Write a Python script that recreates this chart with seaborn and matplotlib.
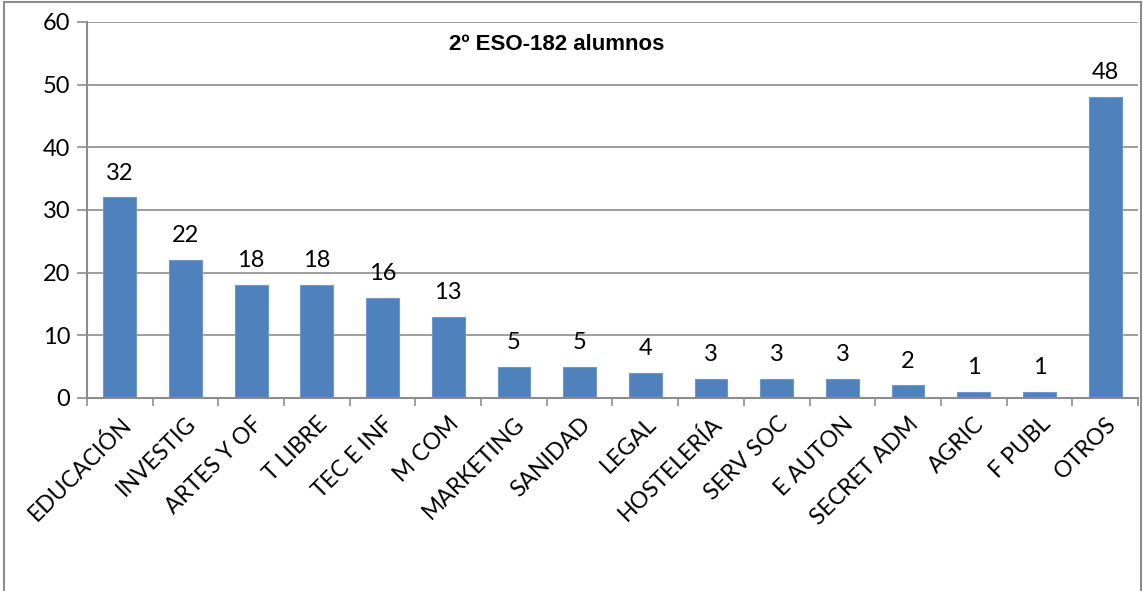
import matplotlib
matplotlib.use("Agg")
import matplotlib.pyplot as plt
import seaborn as sns
import pandas as pd
import numpy as np
from matplotlib.patches import Rectangle

categories = ["EDUCACIÓN", "INVESTIG", "ARTES Y OF", "T LIBRE", "TEC E INF", "M COM",
              "MARKETING", "SANIDAD", "LEGAL", "HOSTELERÍA", "SERV SOC", "E AUTON",
              "SECRET ADM", "AGRIC", "F PUBL", "OTROS"]
values = [32, 22, 18, 18, 16, 13, 5, 5, 4, 3, 3, 3, 2, 1, 1, 48]
title = "2º ESO-182 alumnos"
yticks = [0, 10, 20, 30, 40, 50, 60]

sns.set_theme(style="white")
plt.rcParams['font.family'] = ['Lato', 'DejaVu Sans']

df = pd.DataFrame({"cat": categories, "val": values})
fig = plt.figure(figsize=(11.43, 5.91), dpi=100)
ax = fig.add_axes([0.0761, 0.3266, 0.9195, 0.6362])

sns.barplot(data=df, x="cat", y="val", color="#4F81BD", width=0.5, ax=ax, saturation=1,
            edgecolor="#6F97C9", linewidth=0.8)

ax.set_ylim(0, 60)
ax.set_xlim(-0.5, len(categories) - 0.5)
ax.set_yticks(yticks)
ax.set_yticklabels([str(t) for t in yticks], fontsize=17, color="black")
ax.yaxis.grid(True, color="#8C8C8C", linewidth=1.2)
ax.set_axisbelow(True)
ax.set_xlabel("")
ax.set_ylabel("")

ax.set_xticks(range(len(categories)))
ax.set_xticklabels(categories, rotation=45, ha="right", rotation_mode="anchor",
                   fontsize=16.5, color="black")
ax.tick_params(axis="x", length=0, pad=11)
ax.set_xticks(np.arange(-0.5, len(categories), 1), minor=True)
ax.tick_params(axis="x", which="minor", length=6, color="#8C8C8C", width=1.2, direction="out", bottom=True)
ax.tick_params(axis="y", length=7, color="#8C8C8C", width=1.2, direction="out", left=True, pad=5)

for s in ["top", "right"]:
    ax.spines[s].set_visible(False)
for s in ["left", "bottom"]:
    ax.spines[s].set_color("#8C8C8C")
    ax.spines[s].set_linewidth(1.5)

for i, v in enumerate(values):
    ax.annotate(str(v), (i, v), xytext=(0, 10), textcoords="offset points",
                ha="center", va="bottom", fontsize=17, color="black")

ax.text(0.447, 0.939, title, transform=ax.transAxes, ha="center", va="center",
        fontsize=16, fontweight="bold", color="black", family=["Liberation Sans", "DejaVu Sans"])

fig.patches.append(Rectangle((4 / 1143, -0.1), 1137 / 1143, 1.1 - 2 / 591,
                             transform=fig.transFigure, fill=False,
                             edgecolor="#8C8C8C", linewidth=1.5))

fig.savefig("out.png", dpi=100)
